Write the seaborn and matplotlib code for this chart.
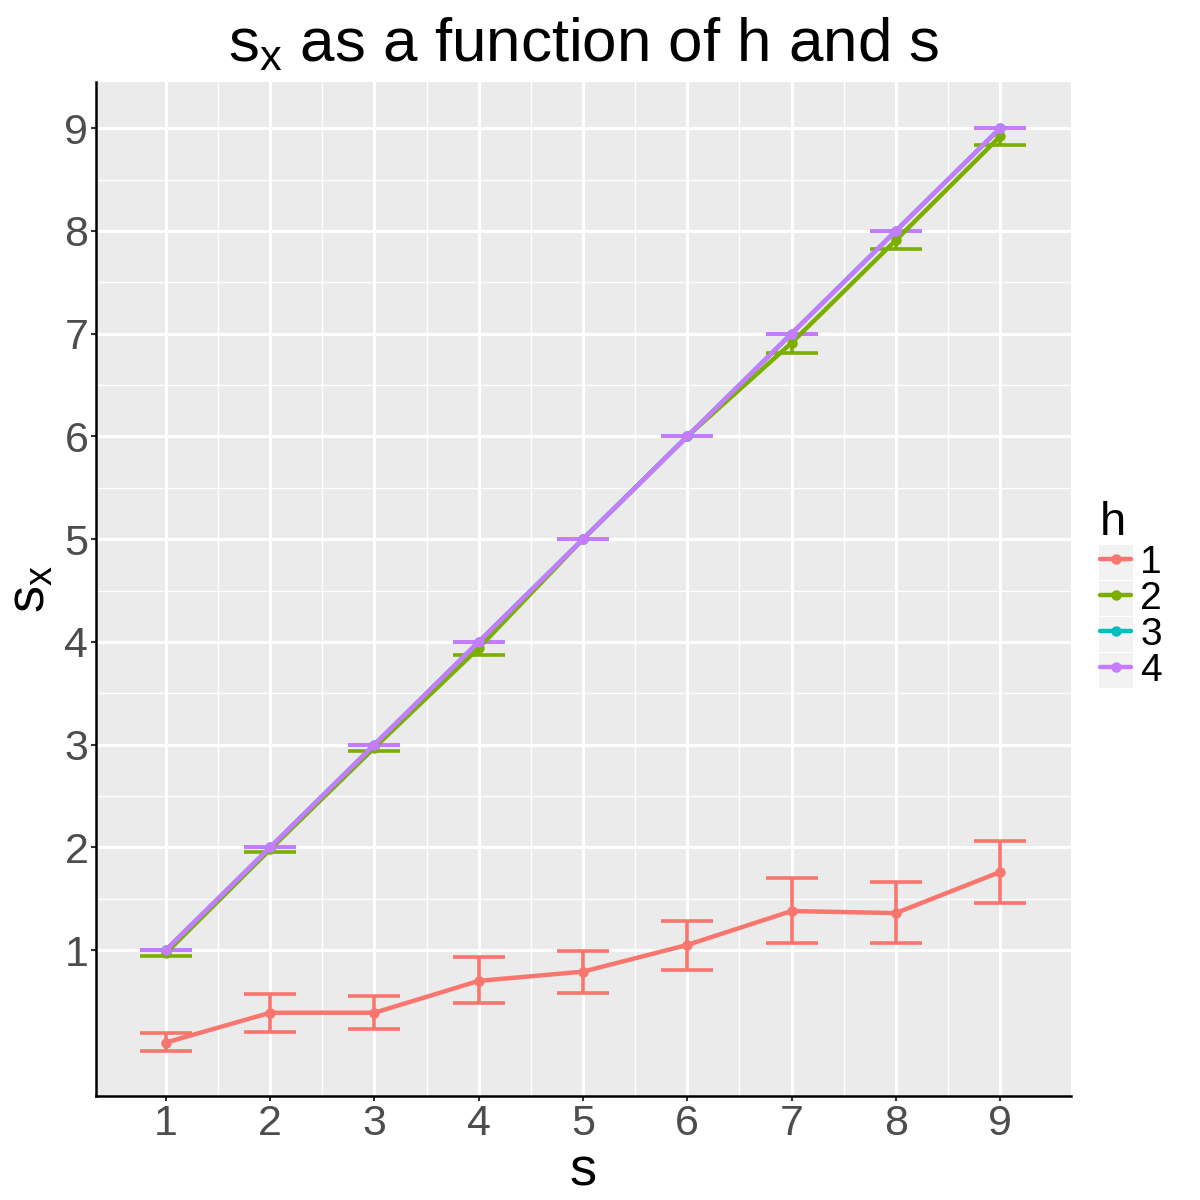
import numpy as np
import pandas as pd
import matplotlib
matplotlib.use("Agg")
import matplotlib.pyplot as plt
from matplotlib.patches import Rectangle
from matplotlib.lines import Line2D
import seaborn as sns

s_vals = [1, 2, 3, 4, 5, 6, 7, 8, 9]
h_levels = ["1", "2", "3", "4"]
h1_mean = [0.10, 0.39, 0.39, 0.70, 0.79, 1.05, 1.38, 1.36, 1.76]
h1_lo = [0.02, 0.20, 0.23, 0.48, 0.58, 0.81, 1.07, 1.07, 1.46]
h1_hi = [0.19, 0.57, 0.55, 0.93, 0.99, 1.28, 1.70, 1.66, 2.06]
h2_mean = [0.97, 1.98, 2.97, 3.94, 5.00, 6.00, 6.91, 7.91, 8.92]
h2_lo = [0.94, 1.95, 2.94, 3.87, 5.00, 6.00, 6.81, 7.82, 8.84]
h2_hi = [1.00, 2.00, 3.00, 4.00, 5.00, 6.00, 7.00, 8.00, 9.00]
h3_mean = [1, 2, 3, 4, 5, 6, 7, 8, 9]
h3_lo = [1, 2, 3, 4, 5, 6, 7, 8, 9]
h3_hi = [1, 2, 3, 4, 5, 6, 7, 8, 9]
h4_mean = [1, 2, 3, 4, 5, 6, 7, 8, 9]
h4_lo = [1, 2, 3, 4, 5, 6, 7, 8, 9]
h4_hi = [1, 2, 3, 4, 5, 6, 7, 8, 9]

palette = ["#F8766D", "#7CAE00", "#00BFC4", "#C77CFF"]

frames = []
for lvl, m, lo, hi in zip(h_levels, [h1_mean, h2_mean, h3_mean, h4_mean],
                          [h1_lo, h2_lo, h3_lo, h4_lo], [h1_hi, h2_hi, h3_hi, h4_hi]):
    frames.append(pd.DataFrame({"s": s_vals, "sx": m, "lo": lo, "hi": hi, "h": lvl}))
df = pd.concat(frames, ignore_index=True)

sns.set_theme(style="darkgrid")
plt.rcParams["font.family"] = ["Liberation Sans", "DejaVu Sans"]
plt.rcParams["mathtext.fontset"] = "custom"
plt.rcParams["mathtext.rm"] = "Liberation Sans"
plt.rcParams["mathtext.it"] = "Liberation Sans"

fig = plt.figure(figsize=(12, 12), dpi=100)
ax = fig.add_axes([0.08, 0.0867, 0.8125, 0.845])
ax.set_facecolor("#EBEBEB")

LW = 3.2
for lvl, col in zip(h_levels, palette):
    d = df[df["h"] == lvl]
    ax.errorbar(d["s"], d["sx"], yerr=[d["sx"] - d["lo"], d["hi"] - d["sx"]],
                fmt="none", ecolor=col, elinewidth=2.6, capsize=18.5, capthick=2.6, zorder=3)

sns.lineplot(data=df, x="s", y="sx", hue="h", hue_order=h_levels, palette=palette,
             linewidth=LW, marker="o", markersize=7.5, markeredgewidth=0,
             ax=ax, legend=False, zorder=4)

ax.set_xlim(0.33, 9.68)
ax.set_ylim(-0.42, 9.45)
ax.set_xticks(s_vals)
ax.set_yticks([1, 2, 3, 4, 5, 6, 7, 8, 9])
ax.set_xticks(np.arange(1.5, 9, 1.0), minor=True)
ax.set_yticks(np.arange(1.5, 9, 1.0), minor=True)
ax.grid(which="major", color="white", linewidth=2.2)
ax.grid(which="minor", color="white", linewidth=1.0)
ax.set_axisbelow(True)
ax.tick_params(axis="both", which="major", labelsize=31, labelcolor="#4D4D4D",
               color="#333333", length=3.5, width=1.5, direction="out", pad=2,
               bottom=True, left=True)
ax.tick_params(axis="both", which="minor", length=0)
for side in ["top", "right"]:
    ax.spines[side].set_visible(False)
for side in ["left", "bottom"]:
    ax.spines[side].set_visible(True)
    ax.spines[side].set_color("black")
    ax.spines[side].set_linewidth(1.8)

ax.set_xlabel("s", fontsize=39, color="black", labelpad=2)
ax.set_ylabel(r"$\mathregular{s_x}$", fontsize=39, color="black", labelpad=6)
ax.set_title(r"$\mathregular{s_x}$ as a function of h and s", fontsize=44.6, color="black", pad=15)

handles = [Line2D([0], [0], color=c, linewidth=LW, marker="o", markersize=7.5, markeredgewidth=0)
           for c in palette]
leg = fig.legend(handles, h_levels, title="h", loc="center left",
                 bbox_to_anchor=(0.9167, 0.5045), frameon=False, fontsize=28,
                 title_fontsize=34, handlelength=0.8, handletextpad=0.23,
                 labelspacing=0.0, borderaxespad=0, borderpad=0, alignment="left",
                 labelcolor="black")
leg.get_title().set_color("black")

fig.canvas.draw()
inv = fig.transFigure.inverted()
for txt in leg.get_texts():
    bb = txt.get_window_extent()
    cy = (bb.y0 + bb.y1) / 2
    x0, y0 = inv.transform((1099, cy - 17.5))
    x1, y1 = inv.transform((1133, cy + 17.5))
    fig.patches.append(Rectangle((x0, y0), x1 - x0, y1 - y0, transform=fig.transFigure,
                                 facecolor="#F2F2F2", edgecolor="none", zorder=0))

fig.savefig("out.png", dpi=100, facecolor="white")
